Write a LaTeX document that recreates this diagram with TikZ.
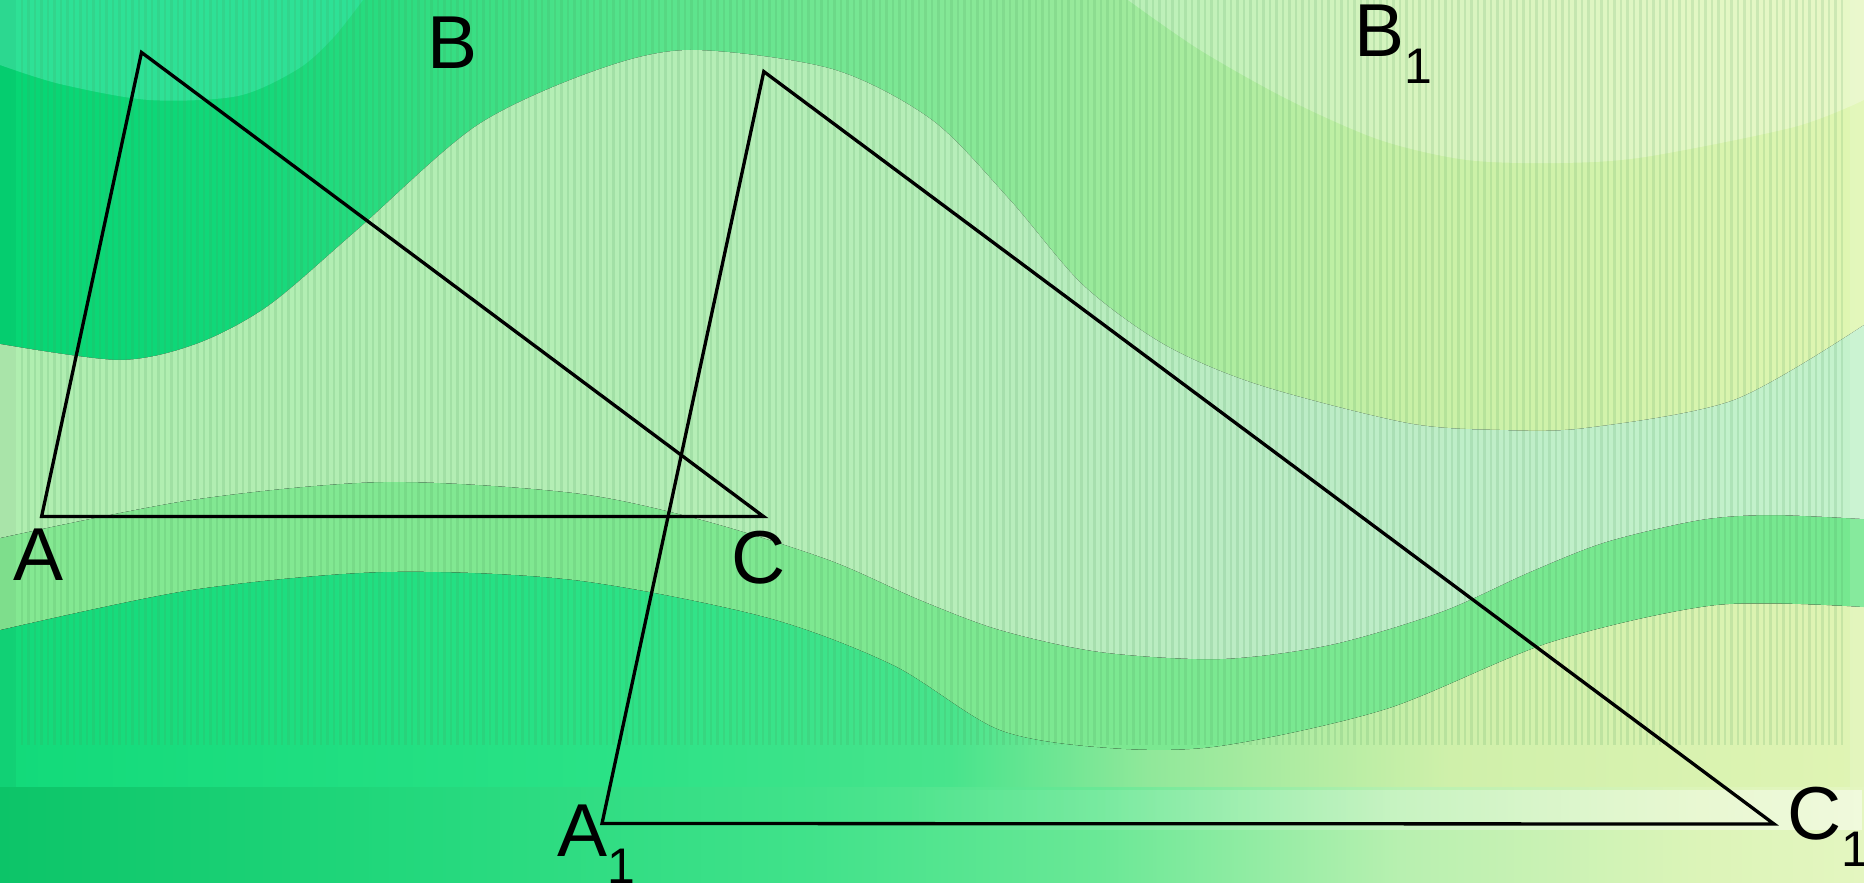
\documentclass[tikz,border=0pt]{standalone}
\usepackage{fontspec}
\setmainfont{Liberation Sans}
\usetikzlibrary{fadings}
% upper region
\definecolor{u0}{HTML}{06D674}
\definecolor{u1}{HTML}{12D87A}
\definecolor{u2}{HTML}{50E38A}
\definecolor{u3}{HTML}{8CE898}
\definecolor{u4}{HTML}{C8F0A6}
\definecolor{u5}{HTML}{E0F6B2}
\pgfdeclarehorizontalshading{upperG}{100bp}{color(0bp)=(u0); color(25bp)=(u0); color(31.7bp)=(u1); color(41.1bp)=(u2); color(51.8bp)=(u3); color(62.6bp)=(u4); color(75bp)=(u5); color(100bp)=(u5)}
% pale band
\definecolor{p0}{HTML}{B0EEB0}
\definecolor{p1}{HTML}{B6EEB8}
\definecolor{p2}{HTML}{BCECC6}
\definecolor{p3}{HTML}{C4F2CC}
\pgfdeclarehorizontalshading{paleG}{100bp}{color(0bp)=(p0); color(25bp)=(p0); color(49.1bp)=(p1); color(59.9bp)=(p2); color(75bp)=(p3); color(100bp)=(p3)}
% medium band
\definecolor{m0}{HTML}{84E892}
\definecolor{m1}{HTML}{76E890}
\pgfdeclarehorizontalshading{midG}{100bp}{color(0bp)=(m0); color(25bp)=(m0); color(75bp)=(m1); color(100bp)=(m1)}
% lower region
\definecolor{l0}{HTML}{12DA7A}
\definecolor{l1}{HTML}{2AE286}
\definecolor{l2}{HTML}{48E48C}
\definecolor{l3}{HTML}{90E89A}
\definecolor{l4}{HTML}{CFF0AA}
\definecolor{l5}{HTML}{E0F4B4}
\pgfdeclarehorizontalshading{lowG}{100bp}{color(0bp)=(l0); color(25bp)=(l0); color(41.1bp)=(l1); color(50.5bp)=(l2); color(55.8bp)=(l3); color(63.9bp)=(l4); color(75bp)=(l5); color(100bp)=(l5)}
% bottom strip
\definecolor{b0}{HTML}{0CC468}
\definecolor{b1}{HTML}{22D87C}
\definecolor{b2}{HTML}{40E28A}
\definecolor{b3}{HTML}{6AE896}
\definecolor{b4}{HTML}{B8F0B0}
\definecolor{b5}{HTML}{DCF4B8}
\definecolor{b6}{HTML}{E4F6C0}
\pgfdeclarehorizontalshading{botG}{100bp}{color(0bp)=(b0); color(25bp)=(b0); color(35.7bp)=(b1); color(46.5bp)=(b2); color(54.5bp)=(b3); color(62.6bp)=(b4); color(70.6bp)=(b5); color(75bp)=(b6); color(100bp)=(b6)}
\definecolor{circTL}{HTML}{2EE196}
\definecolor{stripe}{HTML}{4A9A5A}
\newcommand\subone{\raisebox{-27pt}{\fontsize{50}{60}\selectfont 1}}
\begin{document}
\begin{tikzpicture}[x=1pt,y=-1pt,
  lab/.style={inner sep=0pt, outer sep=0pt, anchor=base west, font=\fontsize{75}{90}\selectfont},
  tri/.style={draw=black, line width=3.3pt, line join=miter}]
\useasboundingbox (0,0) rectangle (1864,883);
\begin{scope}
\clip (0,0) rectangle (1864,883);
% upper region (base)
\fill[shading=upperG] (0,0) rectangle (1864,787);
% top-left lighter circle
\fill[circTL] plot[smooth] coordinates {(0,65) (60,84) (149,100) (238,96) (298,69) (333,38) (363,0)} -- (0,0) -- cycle;
% top-right lighter circle
\fill[white, opacity=0.28] plot[smooth] coordinates {(1128,0) (1200,50) (1289,100) (1380,140) (1467,160) (1560,163) (1645,157) (1794,127) (1864,100)} -- (1864,0) -- cycle;
% lower region
\fill[shading=lowG] plot[smooth] coordinates {(0,630) (191,590) (383,572) (574,580) (765,617) (893,665) (1000,730) (1110,748) (1220,746) (1386,709) (1551,642) (1716,605) (1864,607)} -- (1864,787) -- (0,787) -- cycle;
% medium band
\fill[shading=midG] plot[smooth] coordinates {(0,538) (191,500) (383,482) (574,493) (702,520) (829,560) (920,600) (1000,630) (1100,652) (1220,659) (1330,645) (1441,612) (1530,572) (1606,542) (1700,520) (1771,515) (1864,519)}
  -- plot[smooth] coordinates {(1864,607) (1716,605) (1551,642) (1386,709) (1220,746) (1110,748) (1000,730) (893,665) (765,617) (574,580) (383,572) (191,590) (0,630)} -- cycle;
% pale band
\fill[shading=paleG] plot[smooth] coordinates {(0,344) (119,360) (196,344) (268,306) (357,230) (476,126) (594,71) (690,50) (832,69) (932,120) (1010,200) (1083,285) (1165,345) (1259,385) (1407,423) (1500,430) (1586,428) (1734,400) (1864,325)}
  -- plot[smooth] coordinates {(1864,519) (1771,515) (1700,520) (1606,542) (1530,572) (1441,612) (1330,645) (1220,659) (1100,652) (1000,630) (920,600) (829,560) (702,520) (574,493) (383,482) (191,500) (0,538)} -- cycle;
% vertical stripes
\foreach \i in {0,...,280} {
  \draw[stripe, opacity=0.16, line width=2.2pt] ({22+6.5*\i},0) -- ({22+6.5*\i},745);
}
% outer frame
\fill[black, opacity=0.04] (0,0) rectangle (16,787);
\fill[white, opacity=0.12] (1850,0) rectangle (1864,787);
\fill[shading=botG] (0,787) rectangle (1864,883);
\fill[white, opacity=0.45, path fading=west] (900,790) rectangle (1864,830);
\end{scope}
% triangles
\coordinate (A) at (41.6,516.5);
\coordinate (B) at (141.5,52.4);
\coordinate (C) at (763.5,516.5);
\coordinate (A1) at (602,823.5);
\coordinate (B1) at (763.8,71.6);
\coordinate (C1) at (1774,824);
\draw[tri] (A) -- (B) -- (C) -- cycle;
\draw[tri] (A1) -- (B1) -- (C1) -- cycle;
% labels
\node[lab] (lA) at (13,580) {A};
\node[lab] (lB) at (427.5,69) {B};
\node[lab] (lC) at (731,583) {C};
\node[lab] (lB1) at (1354.5,57) {B\subone};
\node[lab] (lA1) at (557,856) {A\subone};
\node[lab] (lC1) at (1787,839) {C\subone};
\end{tikzpicture}
\end{document}
